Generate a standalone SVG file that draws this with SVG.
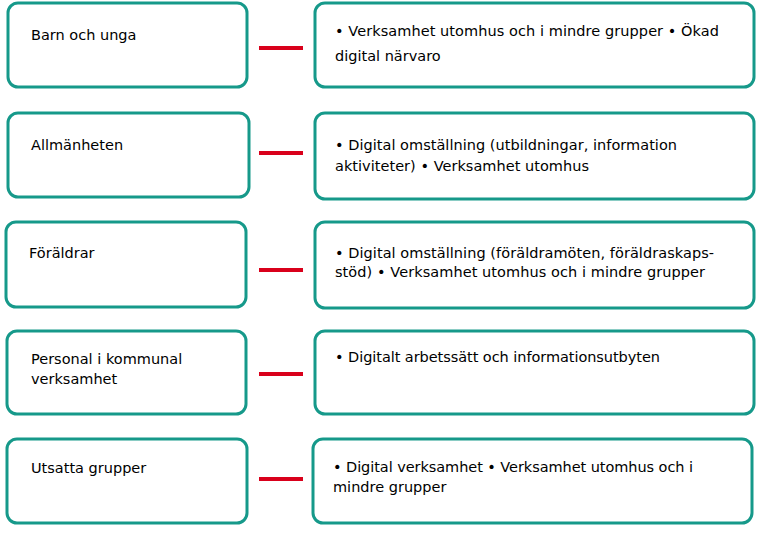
<svg xmlns="http://www.w3.org/2000/svg" width="768" height="543" viewBox="0 0 768 543">
<style>
.b{fill:#fff;stroke:#16998a;stroke-width:3}
.t{font-family:"DejaVu Sans",sans-serif;font-size:14.5px;fill:#000}
.c{stroke:#d9001b;stroke-width:4}
</style>
<rect width="768" height="543" fill="#fff"/>
<g id="n1"><rect class="b" x="8" y="3" width="239" height="84" rx="10"/><text class="t" x="31" y="40">Barn och unga</text></g>
<g id="n2"><rect class="b" x="8" y="113" width="241" height="84" rx="10"/><text class="t" x="31" y="150">Allmänheten</text></g>
<g id="n3"><rect class="b" x="6" y="222" width="240" height="85" rx="10"/><text class="t" x="29" y="258">Föräldrar</text></g>
<g id="n4"><rect class="b" x="7" y="331" width="239" height="83" rx="10"/><text class="t" x="31" y="364">Personal i kommunal</text><text class="t" x="31" y="384">verksamhet</text></g>
<g id="n5"><rect class="b" x="7" y="439" width="240" height="84" rx="10"/><text class="t" x="31" y="473">Utsatta grupper</text></g>
<g id="r1"><rect class="b" x="315" y="3" width="439" height="84" rx="10"/><text class="t" x="335" y="36" textLength="384">• Verksamhet utomhus och i mindre grupper • Ökad</text><text class="t" x="335" y="61">digital närvaro</text></g>
<g id="r2"><rect class="b" x="315" y="113" width="439" height="86" rx="10"/><text class="t" x="335" y="150" textLength="342">• Digital omställning (utbildningar, information</text><text class="t" x="335" y="171" textLength="254">aktiviteter) • Verksamhet utomhus</text></g>
<g id="r3"><rect class="b" x="315" y="222" width="439" height="86" rx="10"/><text class="t" x="335" y="258" textLength="379">• Digital omställning (föräldramöten, föräldraskaps-</text><text class="t" x="335" y="277" textLength="370">stöd) • Verksamhet utomhus och i mindre grupper</text></g>
<g id="r4"><rect class="b" x="315" y="331" width="439" height="83" rx="10"/><text class="t" x="335" y="362" textLength="325">• Digitalt arbetssätt och informationsutbyten</text></g>
<g id="r5"><rect class="b" x="313" y="439" width="439" height="84" rx="10"/><text class="t" x="333" y="472" textLength="360">• Digital verksamhet • Verksamhet utomhus och i</text><text class="t" x="333" y="492">mindre grupper</text></g>
<g id="connectors">
<line class="c" x1="259" y1="48" x2="303" y2="48"/>
<line class="c" x1="259" y1="153" x2="303" y2="153"/>
<line class="c" x1="259" y1="270" x2="303" y2="270"/>
<line class="c" x1="259" y1="374" x2="303" y2="374"/>
<line class="c" x1="259" y1="479" x2="303" y2="479"/>
</g>
</svg>
